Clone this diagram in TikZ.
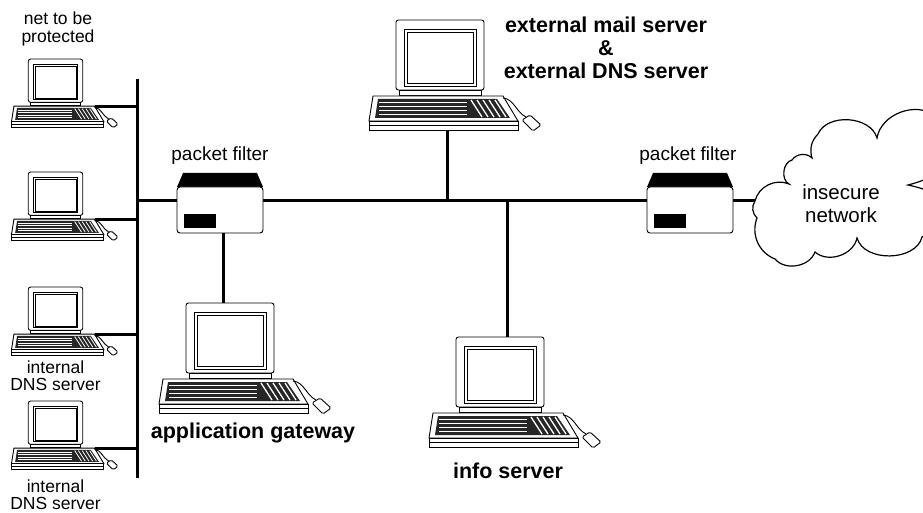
\documentclass[tikz,border=0pt]{standalone}
\usepackage{fontspec}
\setmainfont{Liberation Sans}
\usetikzlibrary{positioning}

% key stripe width, thinner for the small workstations
\tikzset{kb/.store in=\kbw, kb=1.3pt}

\tikzset{
	pics/computer/.style={code={
		% monitor
		\draw[fill=white, rounded corners=2.5] (-44,0) rectangle (44,70);
		\draw (-36,9) rectangle (36,66);
		\draw (-33,12) rectangle (33,63);
		\draw[fill=white] (-41,70) rectangle (41,75);
		% keyboard
		\draw[fill=white] (-67,76) -- (63,76) -- (78,101) -- (-71,101) -- cycle;
		\draw[fill=white] (-71,101) rectangle (78,110);
		\draw (-71,105.5) -- (78,105.5);
		\fill[black!85] (-62,79) -- (57,79) -- (70,98) -- (-65,98) -- cycle;
		\foreach \y in {82.5,86.5,90.5,94.5}
			\draw[white, line width=\kbw] (-61,\y) -- (27,\y);
		\foreach \x in {31,37,43,49,55}
			\draw[white, line width=\kbw] (\x,80) -- (\x+11,97);
		% mouse
		\draw (63,78) .. controls (74,79) and (76,92) .. (86,97);
		\draw[fill=white, rounded corners=1.5] (82,100) -- (90,95) -- (101,105) -- (93,111) -- cycle;
		\coordinate (-top) at (0,0);
		\coordinate (-port) at (63,77);
		\coordinate (-base) at (0,110);
	}},
	pics/pfilter/.style={code={
		\fill (-43,-23) -- (-37,-37) -- (37,-37) -- (43,-23) -- cycle;
		\draw[fill=white, rounded corners=3] (-43,-23) rectangle (43,23);
		\fill (-36,4) rectangle (-4,18);
		\coordinate (-bot) at (3,23);
	}}
}

\begin{document}
\begin{tikzpicture}[
		x=1pt, y=-1pt,
		line width=0.9pt,
		lan/.style={line width=3pt},
		small/.style={scale=0.62, kb=0.8pt},
		lbl/.style={inner sep=0pt, align=center, font=\fontsize{17.5}{17.5}\selectfont},
		pflbl/.style={inner sep=0pt, font=\fontsize{19}{19}\selectfont},
		boldlbl/.style={inner sep=0pt, align=center, font=\fontsize{21.5}{23}\selectfont\bfseries}
		]
		\useasboundingbox (0,0) rectangle (923,513);

		% wiring
		\coordinate (lanN) at (137,79);
		\coordinate (lanS) at (137,478);
		\coordinate (tapExt) at (447,201);
		\coordinate (tapInfo) at (507,201);
		\coordinate (cloudW) at (755,201);

		\draw[lan] (lanN) -- (lanS);
		\draw[lan] (lanN |- tapExt) -- (cloudW);

		% internal net
		\foreach \i/\t in {1/59, 2/172, 3/287, 4/401} {
			\pic[small] (ws\i) at (55.5,\t) {computer};
			\draw[lan] (ws\i-port) -- (ws\i-port -| lanN);
		}

		% packet filters
		\pic (pf1) at (220,210) {pfilter};
		\pic (pf2) at (690,210) {pfilter};
		\node[pflbl] (pf1lbl) at (220,156) {packet filter};
		\node[pflbl] (pf2lbl) at (688,156) {packet filter};

		% servers on the DMZ
		\pic (ext) at (440,20) {computer};
		\pic (gw) at (230,303) {computer};
		\pic (info) at (500,337) {computer};
		\draw[lan] (pf1-bot) -- (pf1-bot |- gw-top);
		\draw[lan] (tapExt) -- (tapExt |- ext-base);
		\draw[lan] (tapInfo) -- (tapInfo |- info-top);

		% outside world
		\draw[fill=white, line width=1.2pt] (cloudW)
			to[bend left=50] (789,184) to[bend left=70] (792,160)
			to[bend left=50] (812,158) to[bend left=30] (818,134)
			to[bend left=70] (877,138) to[bend left=60] (935,116)
			to[bend left=20] (945,168) to[bend left=10] (908,185)
			to[bend left=10] (945,200) to[bend left=30] (922,237)
			to[bend left=75] (857,238)
			to[bend left=60] (815,252) to[bend left=60] (775,259)
			to[bend left=45] (757,218)
			to[bend left=40] (cloudW);
		\node[inner sep=0pt, align=center, font=\fontsize{20.5}{23}\selectfont] (inet) at (841,204) {insecure\\network};

		% labels
		\node[lbl] (netlbl) at (58,29) {net to be\\protected};
		\node[lbl, below=5pt of ws3-base] (dns1) {internal\\DNS server};
		\node[lbl, below=10pt of ws4-base] (dns2) {internal\\DNS server};
		\node[boldlbl] (extlbl) at (606,48) {external mail server\\\&\\external DNS server};
		\node[boldlbl, below=9pt of gw-base, xshift=23pt] (gwlbl) {application gateway};
		\node[boldlbl, below=15pt of info-base, xshift=8pt] (infolbl) {info server};
	\end{tikzpicture}
\end{document}
